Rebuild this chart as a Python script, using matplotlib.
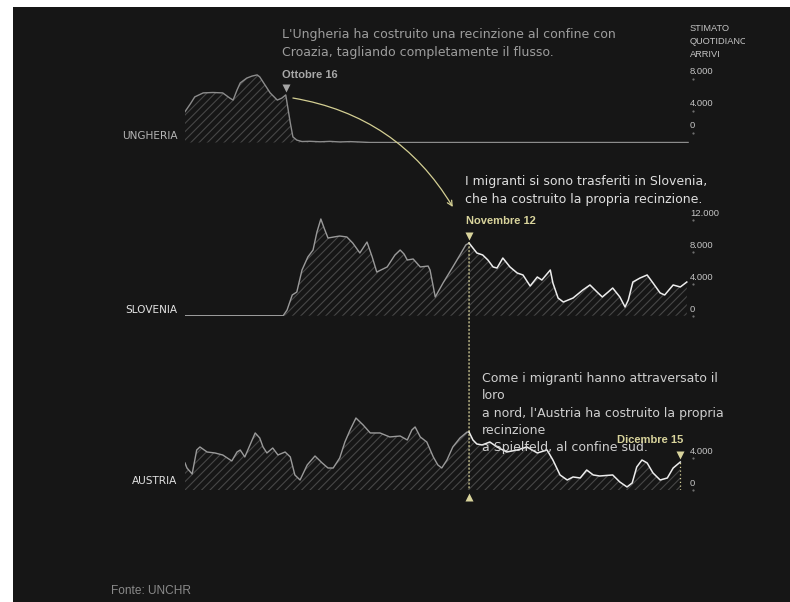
import numpy as np
import matplotlib.pyplot as plt
import matplotlib.transforms as mtransforms
from matplotlib.patches import Rectangle, ConnectionPatch

# giorni dal 30 settembre 2015 -> arrivi giornalieri stimati
ungheria_giorni = [0.0, 0.8, 1.5, 2.8, 4.3, 5.8, 6.9, 7.4, 8.0, 8.5, 9.5, 10.3, 11.1, 11.5,
                   12.3, 13.1, 14.2, 14.9, 15.5, 16.2, 16.6, 17.2, 18.0, 19.2, 20.8, 22.3,
                   23.8, 25.4, 26.9, 28.5, 77.4]
ungheria_arrivi = [3850, 4800, 5700, 6200, 6250, 6200, 5550, 5300, 6550, 7450, 8050, 8300,
                   8450, 8200, 7200, 6200, 5300, 5550, 5950, 2450, 700, 300, 120, 150, 90,
                   140, 70, 110, 60, 0, 0]

slovenia_giorni = [0.0, 15.1, 15.7, 16.5, 17.2, 18.0, 18.9, 19.7, 20.3, 20.9, 21.4, 22.0,
                   22.9, 23.8, 24.9, 25.8, 26.9, 27.5, 28.0, 28.8, 29.5, 31.1, 32.3, 33.1,
                   33.7, 34.2, 35.1, 36.2, 37.4, 37.7, 38.5, 39.7, 41.2, 42.3, 43.2, 43.7,
                   44.3, 44.9, 45.8, 46.6, 47.4, 48.0, 48.9, 50.0, 51.1, 52.0, 53.1, 54.2,
                   54.9, 56.2, 56.6, 57.4, 58.2, 59.7, 61.2, 62.3, 63.4, 64.2, 65.1, 65.8,
                   66.9, 67.7, 68.2, 68.9, 70.0, 71.1, 72.0, 73.1, 73.8, 75.1, 76.2, 77.2]
slovenia_arrivi = [0, 0, 710, 2590, 2960, 5710, 7340, 8210, 10460, 12090, 10960, 9710,
                   9840, 9960, 9840, 9090, 7840, 8590, 9210, 7340, 5460, 6090, 7590, 8210,
                   7710, 6960, 7090, 6090, 6210, 5710, 2340, 4090, 6090, 7590, 8840, 9090,
                   8460, 7840, 7590, 6960, 6090, 5960, 7210, 6090, 5340, 5090, 3710, 4840,
                   4460, 5710, 4090, 2210, 1710, 2210, 3210, 3840, 2960, 2340, 2960, 3460,
                   2340, 1090, 1960, 4210, 4710, 5090, 4090, 2840, 2590, 3840, 3590, 4210]

austria_giorni = [0.0, 0.3, 1.1, 1.8, 2.3, 3.4, 4.6, 5.8, 7.2, 8.0, 8.5, 9.2, 10.0, 10.8,
                  11.5, 12.0, 12.6, 13.5, 14.3, 15.4, 16.2, 16.9, 17.7, 18.8, 20.0, 21.1,
                  22.0, 22.8, 23.8, 24.6, 25.4, 26.3, 27.4, 28.5, 30.0, 31.5, 33.1, 34.2,
                  34.9, 35.4, 36.2, 37.2, 38.2, 38.9, 39.5, 40.3, 41.2, 42.3, 43.4, 43.7,
                  44.3, 44.9, 45.7, 46.9, 48.0, 49.5, 51.1, 52.6, 54.2, 55.7, 56.6, 57.7,
                  58.8, 59.7, 60.8, 61.8, 62.8, 63.8, 65.8, 66.9, 68.0, 68.8, 69.5, 70.3,
                  71.1, 72.0, 73.1, 74.2, 75.1, 76.2]
austria_arrivi = [3380, 2750, 2000, 5000, 5380, 4750, 4630, 4380, 3630, 4750, 5000, 4130,
                  5630, 7130, 6500, 5380, 4630, 5250, 4380, 4750, 4130, 1880, 1250, 3130,
                  4250, 3380, 2750, 2750, 4000, 6000, 7500, 9000, 8130, 7130, 7130, 6630,
                  6750, 6250, 7500, 7880, 6630, 6000, 4130, 3130, 2750, 3750, 5380, 6500,
                  7250, 7250, 6250, 5750, 5630, 6000, 5380, 4750, 5000, 5380, 4630, 5000,
                  3750, 1880, 1250, 1630, 1500, 2500, 1880, 1750, 1880, 1000, 380, 880,
                  2880, 3750, 3380, 2130, 1250, 1500, 2750, 3500]

tick_ungheria = [8000, 4000, 0]
tick_slovenia = [12000, 8000, 4000, 0]
tick_austria = [4000, 0]

giorno_ottobre16 = 15.5
giorno_novembre12 = 43.7
giorno_dicembre15 = 76.2

W, H = 790, 602
X0, X1 = 185, 690
PX_GIORNO = 6.5
PX_MILLE = 8.0
YMAX = 13000
GIALLO = '#d9d49c'
INTERLINEA = 17.3   # px tra le righe delle note

plt.rcParams['font.family'] = 'DejaVu Sans'
plt.rcParams['hatch.linewidth'] = 0.8

fig = plt.figure(figsize=(W / 100, H / 100), dpi=100, facecolor='white')


def rect(x0, y0, x1, y1):
    return [x0 / W, 1 - y1 / H, (x1 - x0) / W, (y1 - y0) / H]


def testo(x, y, s, passo=INTERLINEA, **kw):
    # y = linea di base della prima riga (px dall'alto)
    y_ultima = y + passo * s.count("\n")
    return fig.text(x / W, 1 - y_ultima / H, s, va='baseline', **kw)


fig.add_artist(Rectangle((13 / W, 0), 1 - 13 / W, 1 - 7 / H, transform=fig.transFigure,
                         facecolor='#161616', edgecolor='none', zorder=0))


def pannello(base):
    h = YMAX / 1000 * PX_MILLE
    ax = fig.add_axes(rect(X0, base - h, X1, base))
    ax.set_xlim(0, (X1 - X0) / PX_GIORNO)
    ax.set_ylim(0, YMAX)
    ax.set_axis_off()
    return ax


def serie(ax, giorni, arrivi, col1, col2=None, taglio=None):
    g = np.array(giorni)
    a = np.array(arrivi)
    ax.fill_between(g, 0, a, facecolor='none', edgecolor='#474747', hatch='////', linewidth=0)
    if taglio is None:
        ax.plot(g, a, color=col1, lw=1.0)
    else:
        ax.plot(g[g <= taglio], a[g <= taglio], color=col1, lw=1.0)
        ax.plot(g[g >= taglio], a[g >= taglio], color=col2, lw=1.1)


def scala(ax, valori, alza=None):
    alza = alza or {}
    xg = (X1 - X0) / PX_GIORNO
    for v in valori:
        tr = mtransforms.offset_copy(ax.transData, fig=fig, y=alza.get(v, 0), units='dots')
        ax.plot([xg + 0.4], [v], marker='o', ms=1.6, color='#707070', mec='none',
                transform=tr, clip_on=False)
        tr2 = mtransforms.offset_copy(ax.transData, fig=fig, y=alza.get(v, 0) + 4, units='dots')
        ax.text(xg, v, f"{v:,}".replace(",", "."), transform=tr2, ha='left', va='baseline',
                fontsize=6.8, family='Liberation Sans', color='#c4c4c4')


def triangolo(ax, giorno, valore, colore, su=True, dy=7):
    tr = mtransforms.offset_copy(ax.transData, fig=fig, y=dy if su else -dy, units='dots')
    ax.plot([giorno], [valore], marker='v' if su else '^', ms=6, color=colore,
            mec='none', transform=tr, clip_on=False)


ax_u = pannello(142.5)
ax_s = pannello(315.7)
ax_a = pannello(490)

serie(ax_u, ungheria_giorni, ungheria_arrivi, '#8c8c8c')
serie(ax_s, slovenia_giorni, slovenia_arrivi, '#9a9a9a', '#ececec', giorno_novembre12)
serie(ax_a, austria_giorni, austria_arrivi, '#9a9a9a', '#ececec', giorno_novembre12)

scala(ax_u, tick_ungheria, alza={0: 10})
scala(ax_s, tick_slovenia)
scala(ax_a, tick_austria)

# marcatori
v_ott = np.interp(giorno_ottobre16, ungheria_giorni, ungheria_arrivi)
v_nov = np.interp(giorno_novembre12, slovenia_giorni, slovenia_arrivi)
v_dic = np.interp(giorno_dicembre15, austria_giorni, austria_arrivi)
triangolo(ax_u, giorno_ottobre16, v_ott, '#a5a5a5')
triangolo(ax_s, giorno_novembre12, v_nov, GIALLO)
triangolo(ax_a, giorno_novembre12, 0, GIALLO, su=False)
triangolo(ax_a, giorno_dicembre15, v_dic, GIALLO)

linea = ConnectionPatch((giorno_novembre12, v_nov), (giorno_novembre12, 0), 'data', 'data',
                        axesA=ax_s, axesB=ax_a, color=GIALLO, lw=0.9, linestyle=(0, (1, 2)))
fig.add_artist(linea)
ax_a.vlines(giorno_dicembre15, 0, v_dic, color=GIALLO, lw=0.9, linestyles=(0, (1, 2)))

# freccia curva Ungheria -> Slovenia
ax_u.annotate('', xy=(41.2, 13590), xycoords=ax_s.transData,
              xytext=(16.6, 5560), textcoords=ax_u.transData,
              arrowprops=dict(arrowstyle='->', color='#d4cf93', lw=0.9,
                              connectionstyle='arc3,rad=-0.23', mutation_scale=9,
                              shrinkA=0, shrinkB=0),
              annotation_clip=False)

# testi
testo(282, 38.3, "L'Ungheria ha costruito una recinzione al confine con\n"
      "Croazia, tagliando completamente il flusso.",
      fontsize=9, color='#9d9d9d', linespacing=1.43)
testo(282, 77.7, "Ottobre 16", fontsize=8, weight='bold', family='Liberation Sans',
      color='#a8a8a8')
testo(465, 185.5, "I migranti si sono trasferiti in Slovenia,\n"
      "che ha costruito la propria recinzione.",
      fontsize=9, color='#dedede', linespacing=1.43)
testo(466, 223.5, "Novembre 12", fontsize=8, weight='bold', family='Liberation Sans',
      color=GIALLO)
testo(482, 382, "Come i migranti hanno attraversato il\nloro\n"
      "a nord, l'Austria ha costruito la propria\nrecinzione\n"
      "a Spielfeld, al confine sud.",
      fontsize=9, color='#cfcfcf', linespacing=1.43)
testo(683, 443.3, "Dicembre 15", fontsize=8, weight='bold', family='Liberation Sans',
      color=GIALLO, ha='right')

intest = testo(690, 31.7, "STIMATO\nQUOTIDIANO\nARRIVI", passo=12.5, fontsize=6.7,
               family='Liberation Sans', color='#c4c4c4', linespacing=1.55)
intest.set_clip_box(mtransforms.Bbox.from_extents(0, 0, 745, H))
intest.set_clip_on(True)

for nome, y, col in [("UNGHERIA", 139.3, '#b5b5b5'), ("SLOVENIA", 313.3, '#e2e2e2'),
                     ("AUSTRIA", 484.3, '#e2e2e2')]:
    testo(177.3, y, nome, fontsize=7.6, color=col, ha='right')

testo(111, 594, "Fonte: UNCHR", fontsize=8.6, family='Liberation Sans', color='#8a8a8a')

fig.savefig('out.png', dpi=100, facecolor=fig.get_facecolor())
